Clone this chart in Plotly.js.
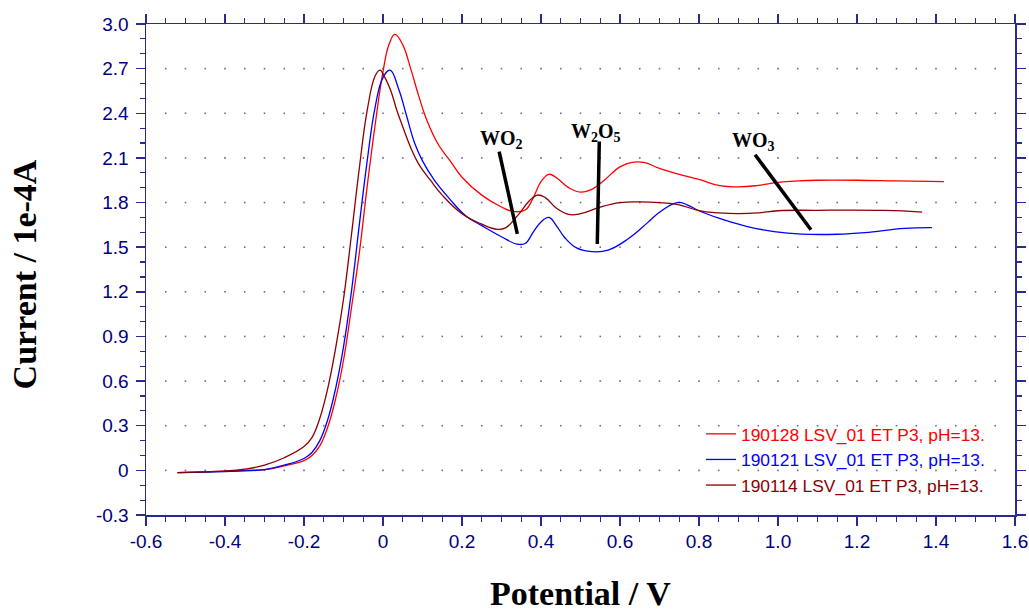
<!DOCTYPE html>
<html><head><meta charset="utf-8">
<script src="https://cdn.plot.ly/plotly-3.0.1.min.js"></script>
<style>html,body{margin:0;padding:0;background:#fff}#chart{width:1029px;height:611px}</style>
</head><body><div id="chart"></div>
<script>
// Series names
const seriesNames = ['190128 LSV_01 ET P3, pH=13.', '190121 LSV_01 ET P3, pH=13.', '190114 LSV_01 ET P3, pH=13.'];
const seriesColors = ['#ff0000', '#0000ff', '#8b0000'];

// 190128 (red)
const redX = [-0.52,-0.45,-0.4,-0.35,-0.3,-0.25,-0.2,-0.18,-0.16,-0.14,-0.12,-0.1,-0.08,-0.06,-0.04,-0.02,0.0,0.015,0.03,0.05,0.07,0.09,0.11,0.14,0.17,0.2,0.25,0.3,0.33,0.36,0.38,0.4,0.42,0.44,0.47,0.5,0.53,0.56,0.6,0.63,0.66,0.7,0.75,0.8,0.85,0.9,0.95,1.0,1.05,1.1,1.2,1.3,1.42];
const redY = [-0.015,-0.01,-0.005,0.0,0.005,0.03,0.065,0.1,0.165,0.29,0.48,0.74,1.09,1.46,1.91,2.32,2.68,2.86,2.93,2.86,2.70,2.52,2.36,2.19,2.08,1.97,1.85,1.77,1.74,1.75,1.83,1.94,1.99,1.965,1.90,1.87,1.89,1.95,2.04,2.07,2.07,2.03,1.99,1.955,1.915,1.905,1.915,1.935,1.945,1.95,1.95,1.945,1.94];

// 190121 (blue)
const blueX = [-0.52,-0.45,-0.4,-0.35,-0.3,-0.25,-0.2,-0.18,-0.16,-0.14,-0.12,-0.1,-0.08,-0.06,-0.04,-0.02,0.0,0.018,0.04,0.06,0.08,0.1,0.13,0.17,0.21,0.25,0.3,0.34,0.36,0.38,0.4,0.42,0.44,0.46,0.49,0.53,0.57,0.62,0.67,0.7,0.745,0.77,0.8,0.85,0.92,0.99,1.06,1.15,1.22,1.32,1.39];
const blueY = [-0.015,-0.012,-0.008,-0.003,0.005,0.035,0.08,0.12,0.2,0.34,0.55,0.83,1.2,1.65,2.08,2.44,2.64,2.69,2.56,2.38,2.20,2.08,1.95,1.82,1.71,1.645,1.57,1.52,1.525,1.60,1.67,1.70,1.64,1.565,1.495,1.47,1.48,1.555,1.665,1.735,1.80,1.785,1.745,1.695,1.64,1.605,1.588,1.587,1.598,1.627,1.632];

// 190114 (dark red)
const darkX = [-0.52,-0.45,-0.4,-0.35,-0.3,-0.25,-0.2,-0.18,-0.16,-0.14,-0.12,-0.1,-0.08,-0.06,-0.04,-0.02,-0.008,0.005,0.02,0.035,0.05,0.07,0.09,0.12,0.15,0.2,0.25,0.29,0.31,0.34,0.37,0.39,0.41,0.44,0.47,0.5,0.55,0.6,0.65,0.7,0.75,0.8,0.85,0.9,0.95,1.0,1.1,1.27,1.365];
const darkY = [-0.015,-0.01,-0.005,0.008,0.035,0.085,0.16,0.22,0.35,0.55,0.82,1.15,1.58,2.03,2.42,2.65,2.69,2.64,2.55,2.42,2.31,2.17,2.06,1.95,1.85,1.725,1.655,1.62,1.63,1.71,1.81,1.85,1.835,1.76,1.72,1.725,1.77,1.80,1.805,1.80,1.785,1.745,1.73,1.725,1.73,1.745,1.748,1.747,1.736];

// Tick labels
const xTickVals = [-0.6,-0.4,-0.2,0,0.2,0.4,0.6,0.8,1.0,1.2,1.4,1.6];
const xTickText = ['-0.6','-0.4','-0.2','0','0.2','0.4','0.6','0.8','1.0','1.2','1.4','1.6'];
const yTickVals = [-0.3,0,0.3,0.6,0.9,1.2,1.5,1.8,2.1,2.4,2.7,3.0];
const yTickText = ['-0.3','0','0.3','0.6','0.9','1.2','1.5','1.8','2.1','2.4','2.7','3.0'];

// Peak labels and their pointer lines
const peakLabels = ['WO<sub>2</sub>', 'W<sub>2</sub>O<sub>5</sub>', 'WO<sub>3</sub>'];
const peakLabelX = [0.301, 0.539, 0.937];
const peakLabelY = [2.222, 2.27, 2.212];
const pointerX0 = [0.294, 0.5476, 0.942];
const pointerY0 = [2.143, 2.21, 2.121];
const pointerX1 = [0.340, 0.5425, 1.0835];
const pointerY1 = [1.59, 1.522, 1.617];

// dotted grid (at minor x ticks, major y ticks)
const gx = [], gy = [];
for (let i = 1; i < 44; i++) {
  for (let j = 1; j < 11; j++) {
    gx.push(-0.6 + i * 0.05);
    gy.push(-0.3 + j * 0.3);
  }
}

const navy = '#000080';
const axisLine = '#2a2a96';

const traces = [
  {x: gx, y: gy, type: 'scatter', mode: 'markers', showlegend: false, hoverinfo: 'skip',
   marker: {symbol: 'square', size: 1.6, color: '#6a6a9a', line: {width: 0}}},
  {x: redX, y: redY, name: '<span style="color:' + seriesColors[0] + '">' + seriesNames[0] + '</span>', type: 'scatter', mode: 'lines',
   line: {color: seriesColors[0], width: 1.3, shape: 'spline', smoothing: 1.2}},
  {x: blueX, y: blueY, name: '<span style="color:' + seriesColors[1] + '">' + seriesNames[1] + '</span>', type: 'scatter', mode: 'lines',
   line: {color: seriesColors[1], width: 1.3, shape: 'spline', smoothing: 1.2}},
  {x: darkX, y: darkY, name: '<span style="color:' + seriesColors[2] + '">' + seriesNames[2] + '</span>', type: 'scatter', mode: 'lines',
   line: {color: seriesColors[2], width: 1.3, shape: 'spline', smoothing: 1.2}}
];

const serif = 'Liberation Serif, Times New Roman, serif';
const annotations = peakLabels.map((t, i) => ({
  x: peakLabelX[i], y: peakLabelY[i], xref: 'x', yref: 'y', text: t, showarrow: false,
  xanchor: 'center', yanchor: 'middle', font: {family: serif, size: 20, color: '#000', weight: 'bold'}
}));
annotations.push({xref: 'paper', yref: 'paper', x: 0.5, y: -0.159, text: '<b>Potential / V</b>', showarrow: false,
  xanchor: 'center', yanchor: 'middle', font: {family: serif, size: 34, color: '#000'}});
annotations.push({xref: 'paper', yref: 'paper', x: -0.1404, y: 0.49, text: '<b>Current / 1e-4A</b>', showarrow: false, textangle: -90,
  xanchor: 'center', yanchor: 'middle', font: {family: serif, size: 34, color: '#000'}});

const shapes = pointerX0.map((x0, i) => ({
  type: 'line', xref: 'x', yref: 'y', x0: x0, y0: pointerY0[i], x1: pointerX1[i], y1: pointerY1[i],
  line: {color: '#000', width: 3.5}
}));

const axisCommon = {
  showgrid: false, zeroline: false, showline: true, linecolor: axisLine, linewidth: 1.5,
  mirror: 'ticks', ticks: 'outside', ticklen: 9, tickwidth: 1.5, tickcolor: axisLine,
  tickfont: {family: 'Liberation Sans, Arial, sans-serif', size: 19, color: navy},
  tickmode: 'array'
};

const layout = {
  width: 1029, height: 611,
  margin: {l: 146, r: 14, t: 24, b: 96},
  paper_bgcolor: '#fff', plot_bgcolor: '#fff',
  font: {family: 'Liberation Sans, Arial, sans-serif'},
  xaxis: Object.assign({}, axisCommon, {range: [-0.6, 1.6], tickvals: xTickVals, ticktext: xTickText,
    minor: {dtick: 0.05, tick0: -0.6, ticks: 'outside', ticklen: 5, tickwidth: 1.2, tickcolor: axisLine, showgrid: false}}),
  yaxis: Object.assign({}, axisCommon, {range: [-0.3, 3.0], tickvals: yTickVals, ticktext: yTickText, ticklabelstandoff: 3,
    minor: {dtick: 0.1, tick0: -0.3, ticks: 'outside', ticklen: 5, tickwidth: 1.2, tickcolor: axisLine, showgrid: false}}),
  showlegend: true,
  legend: {x: 0.6387, y: 0.2016, xanchor: 'left', yanchor: 'top', bgcolor: 'rgba(0,0,0,0)',
    font: {family: 'Liberation Sans, Arial, sans-serif', size: 17.4}, traceorder: 'normal'},
  annotations: annotations,
  shapes: shapes
};

Plotly.newPlot('chart', traces, layout, {staticPlot: true, displayModeBar: false});
</script>
</body></html>
